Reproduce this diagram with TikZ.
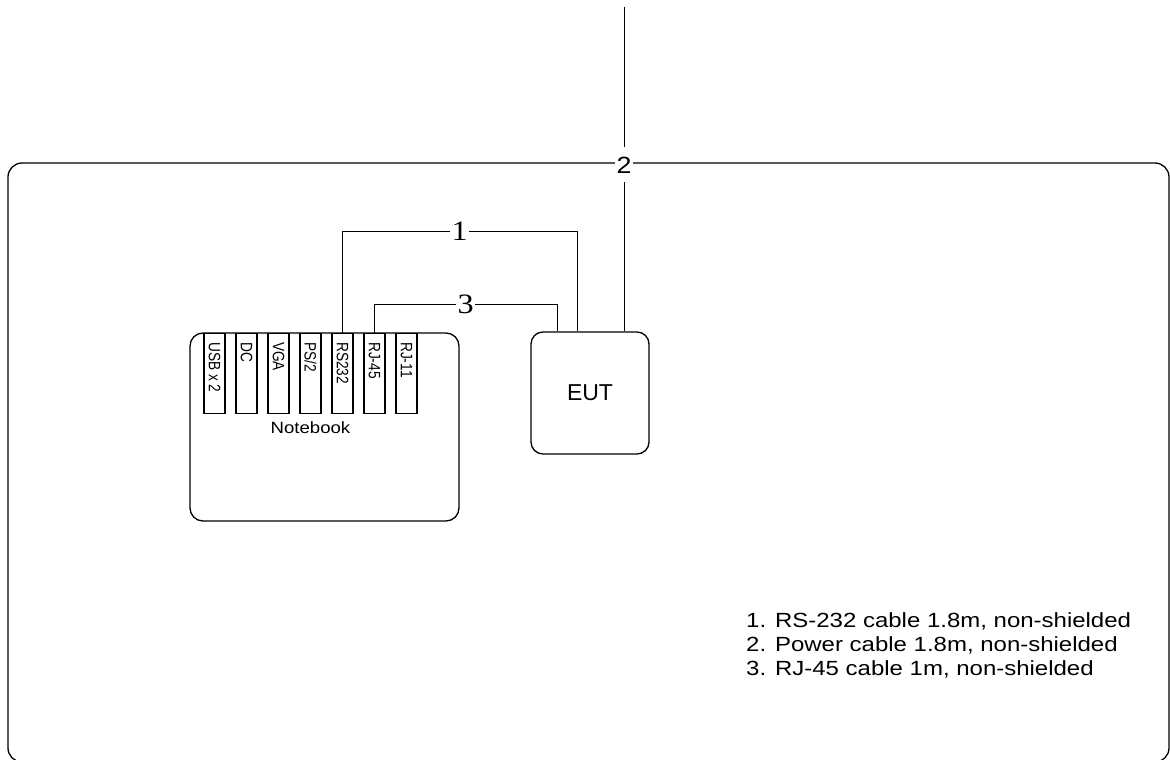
\documentclass[tikz,border=0pt]{standalone}
\usepackage{fontspec}
\setmainfont{Liberation Sans}
\newfontfamily\widesans[FakeStretch=1.14]{Liberation Sans}
\newfontfamily\legendsans[FakeStretch=1.17]{Liberation Sans}
\newfontfamily\narrowsans[FakeStretch=0.83]{Liberation Sans}
\newfontfamily\wideserif[FakeStretch=1.15]{Liberation Serif}
\usetikzlibrary{positioning, calc}

\begin{document}
\begin{tikzpicture}[x=1pt, y=-1pt,
  unitbox/.style={draw, line width=1.3pt, inner sep=0pt},
  portbox/.style={draw, line width=1.1pt, minimum width=21pt, minimum height=80pt, inner sep=0pt},
  portlabel/.style={font=\narrowsans\fontsize{16.5}{16}\selectfont, rotate=-90, anchor=west, inner sep=0pt},
  cable/.style={line width=0.9pt},
  cablenum/.style={font=\wideserif\fontsize{28}{28}\selectfont, fill=white, inner xsep=1.5pt, inner ysep=0pt},
  powernum/.style={font=\widesans\fontsize{23.5}{24}\selectfont, fill=white, inner xsep=2pt, minimum height=35pt},
  legend/.style={font=\legendsans\fontsize{20.5}{24}\selectfont, inner sep=0pt}]

  \useasboundingbox (0,0) rectangle (1170,760);

  %% test set-up frame
  \node[unitbox, rounded corners=14pt, minimum width=1161pt, minimum height=599pt] (frame) at (588.5,462.5) {};

  %% notebook with its ports
  \node[unitbox, rounded corners=13pt, minimum width=269pt, minimum height=188pt] (notebook) at (324.5,427) {};
  \foreach \i/\nm/\lab in {0/usb/{USB x 2}, 1/dc/DC, 2/vga/VGA, 3/ps2/{PS/2}, 4/rs/RS232, 5/rj45/RJ-45, 6/rj11/RJ-11}{
    \node[portbox, anchor=north] (\nm) at ({214.5+32*\i},333) {};
    \node[portlabel] at ([yshift=-9pt]\nm.north) {\lab};
  }
  \node[font=\widesans\fontsize{16.3}{18}\selectfont, inner sep=0pt, below=7pt of ps2] (nblabel) {Notebook};

  %% EUT
  \node[unitbox, rounded corners=12pt, minimum width=118pt, minimum height=122pt,
        font=\fontsize{23}{24}\selectfont] (eut) at (590,393) {EUT};

  %% cables
  \coordinate (c1) at (577,231);
  \coordinate (c3) at (557,304);
  \coordinate (mains) at (624,7);
  \draw[cable] (rs.north) |- node[cablenum, pos=0.75] (n1) {1} (c1) -- (c1 |- eut.north);
  \draw[cable] (rj45.north) |- node[cablenum, pos=0.75] (n3) {3} (c3) -- (c3 |- eut.north);
  \draw[cable] (mains) -- (mains |- eut.north);
  \node[powernum] (n2) at ([yshift=-2.5pt]mains |- frame.north) {2};

  %% legend
  \foreach \k/\txt in {0/{1. RS-232 cable 1.8m, non-shielded}, 1/{2. Power cable 1.8m, non-shielded}, 2/{3. RJ-45 cable 1m, non-shielded}}{
    \node[legend, anchor=base west] (leg\k) at (746,{627+24*\k}) {\txt};
  }

\end{tikzpicture}
\end{document}
